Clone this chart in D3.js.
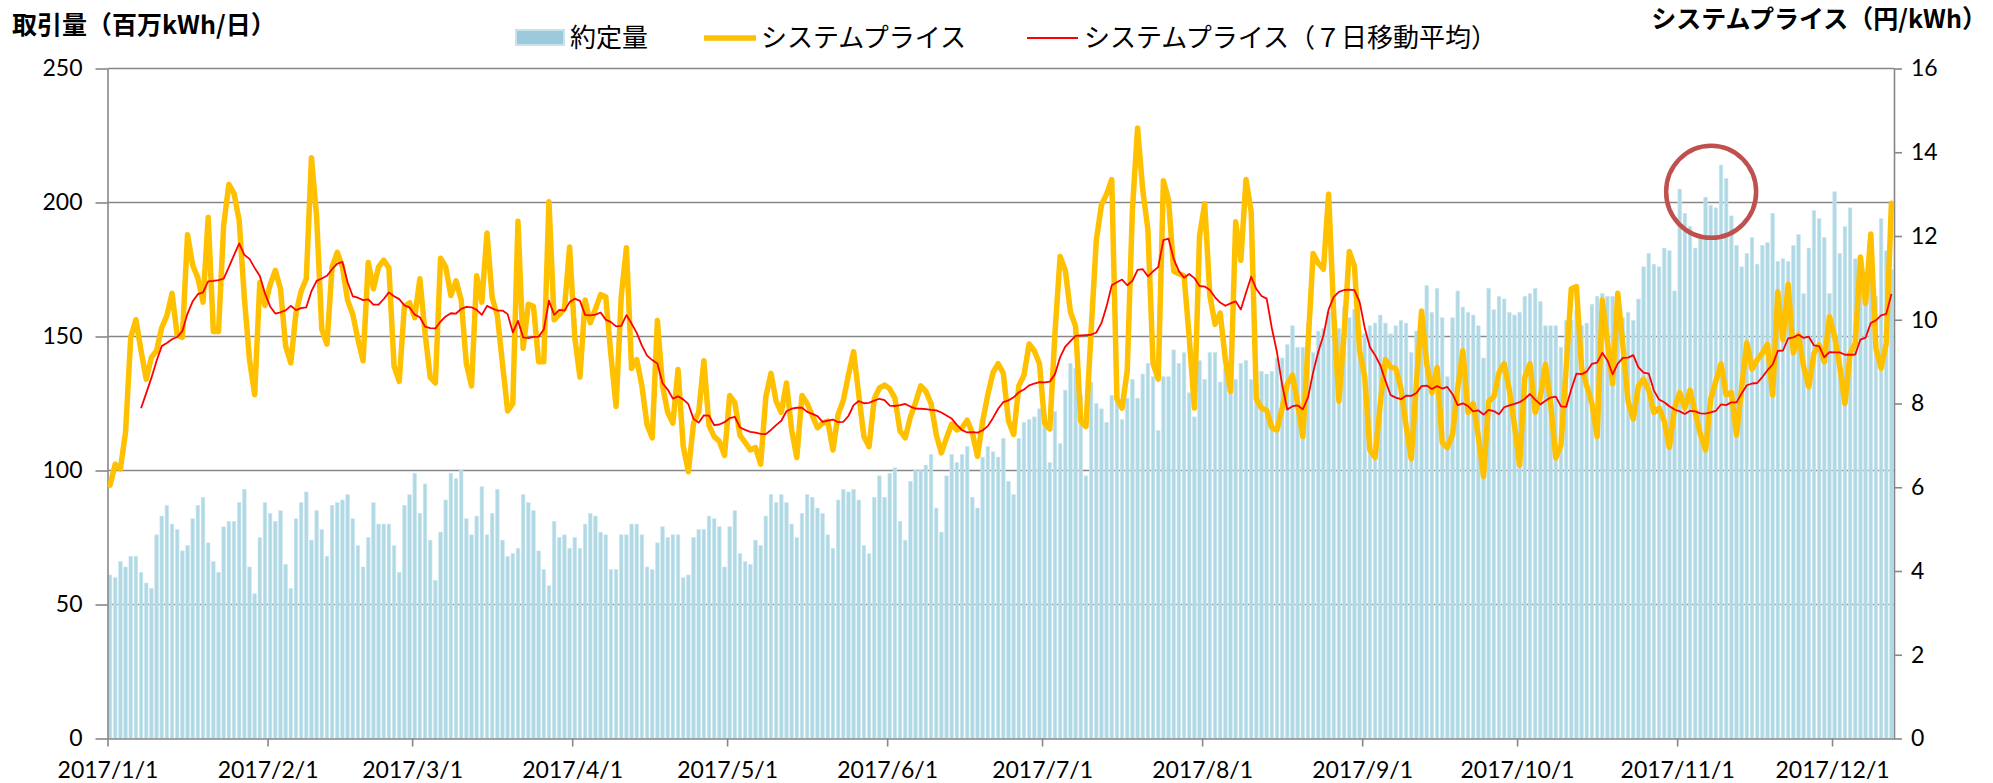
<!DOCTYPE html>
<html>
<head>
<meta charset="utf-8">
<script src="https://cdn.jsdelivr.net/npm/d3@7"></script>
<style>
body { margin: 0; background: #fff; }
</style>
</head>
<body>
<script>
var w = 1993;
var h = 783;
var svg;

// daily values, 2017/1/1 .. 2017/12/12
var startDay = new Date(Date.UTC(2017, 0, 1));
var endDay = new Date(Date.UTC(2017, 11, 13));

// 約定量 (百万kWh/日)
var volume = [
 61,60,66,64,68,68,62,58,56,76,83,87,80,78,70,72,82,87,90,73,66,62,79,81,81,88,93,64,54,75,
 88,84,81,85,65,56,82,88,92,74,85,78,68,87,88,89,91,82,72,64,75,88,80,80,80,72,62,87,91,99,
 84,95,74,59,77,89,99,97,100,82,76,83,94,76,84,93,74,68,69,71,91,88,85,70,63,57,81,75,76,71,
 75,71,80,84,83,77,76,63,63,76,76,80,80,76,64,63,73,79,75,76,76,60,61,75,78,78,83,82,79,64,
 79,85,69,66,65,74,72,83,91,88,91,88,80,75,84,91,90,86,84,76,71,89,93,92,93,89,72,69,90,98,
 90,99,101,81,74,96,100,100,102,106,86,77,98,106,103,106,109,90,86,105,109,107,105,112,96,91,112,118,119,120,
 123,121,103,122,110,130,140,138,128,98,133,125,123,118,128,127,119,127,134,127,136,140,135,115,135,135,145,140,144,129,
 120,141,134,144,144,133,138,135,134,140,141,134,137,137,136,137,142,142,147,154,146,146,155,144,152,153,159,162,153,161,
 157,160,152,151,154,155,158,155,151,154,156,155,144,152,159,169,159,168,157,135,157,167,161,159,158,154,142,168,160,165,
 164,159,158,159,165,166,168,163,154,154,154,146,156,156,160,154,155,162,165,166,165,165,159,157,159,156,164,176,181,177,
 176,183,182,167,205,196,191,183,187,202,199,198,214,209,195,184,176,181,187,177,184,185,196,178,179,178,184,188,166,183,
 197,194,187,166,204,181,191,198,179,180,174,178,165,194,182,175
];

// システムプライス (円/kWh)
var price = [
 6.05,6.55,6.44,7.32,9.58,10.0,9.26,8.58,9.1,9.26,9.81,10.1,10.63,9.63,9.58,12.03,11.3,11.0,10.42,12.45,9.72,9.72,12.26,13.23,13.02,12.37,10.53,9.05,8.21,10.89,
 10.34,10.84,11.18,10.74,9.37,8.97,10.16,10.68,10.98,13.87,12.47,9.77,9.42,11.26,11.61,11.26,10.47,10.13,9.53,9.02,11.37,10.74,11.26,11.42,11.24,8.89,8.53,10.32,10.4,10.05,
 10.98,9.68,8.63,8.49,11.47,11.26,10.58,10.93,10.47,8.95,8.42,11.05,10.42,12.07,10.53,10.1,8.95,7.82,8.0,12.35,9.32,10.37,10.32,9.0,9.0,12.82,10.0,10.13,10.26,11.74,
 9.58,8.63,10.47,9.93,10.26,10.6,10.55,9.16,7.93,10.56,11.72,8.84,9.05,8.42,7.49,7.18,9.98,8.42,7.79,7.53,8.81,6.98,6.37,7.53,7.79,9.02,7.47,7.21,7.1,6.76,
 8.19,8.02,7.24,7.07,6.89,6.95,6.55,8.16,8.72,8.05,7.79,8.49,7.37,6.71,8.19,8.0,7.71,7.42,7.53,7.58,6.89,7.74,8.07,8.68,9.24,8.21,7.21,6.97,8.11,8.37,
 8.44,8.35,8.13,7.34,7.18,7.68,8.02,8.42,8.29,8.0,7.26,6.82,7.18,7.51,7.37,7.42,7.6,7.3,6.74,7.58,8.21,8.74,8.95,8.72,7.58,7.26,8.42,8.68,9.42,9.26,
 8.95,7.53,7.39,9.68,11.51,11.18,10.19,9.84,7.58,7.45,9.74,11.89,12.74,13.0,13.35,8.11,7.89,8.79,12.63,14.58,13.1,12.16,8.95,8.58,13.32,12.86,11.16,11.1,11.05,9.58,
 7.89,12.0,12.77,10.58,9.89,10.16,9.05,8.29,12.34,11.42,13.35,12.58,8.11,7.89,7.84,7.42,7.37,7.89,8.47,8.68,8.0,7.21,9.37,11.58,11.35,11.21,13.0,10.1,8.05,9.68,
 11.63,11.28,9.26,8.63,6.89,6.71,8.0,9.05,8.87,8.84,8.37,7.47,6.68,8.47,10.21,8.95,8.26,8.86,7.07,6.95,7.26,8.37,9.26,7.79,8.0,7.21,6.26,8.05,8.16,8.74,
 8.95,8.32,7.47,6.53,8.63,8.95,7.79,8.16,8.93,8.0,6.7,7.0,8.84,10.74,10.79,8.84,8.42,8.0,7.21,10.47,9.47,8.47,10.63,9.37,8.05,7.63,8.42,8.58,8.32,7.79,
 7.89,7.58,6.95,7.89,8.26,7.89,8.32,7.79,7.26,6.89,8.1,8.53,8.95,8.21,8.26,7.25,8.4,9.45,8.82,9.04,9.2,9.41,8.2,10.67,9.52,10.85,9.21,9.64,8.88,8.4,
 9.2,9.4,9.0,10.07,9.6,8.88,8.0,9.2,9.44,11.5,10.39,12.05,9.32,8.84,9.44,12.78
];

var leftTicks = [0, 50, 100, 150, 200, 250];
var rightTicks = [0, 2, 4, 6, 8, 10, 12, 14, 16];

var legendNames = ["約定量", "システムプライス", "システムプライス（７日移動平均）"];
var leftTitle = "取引量（百万kWh/日）";
var rightTitle = "システムプライス（円/kWh）";

var plotLeft = 107.5;
var plotRight = 1894;
var plotTop = 68.5;
var plotBottom = 738.5;
var gridColor = "#878787";
var numFont = "Lato, 'Liberation Sans', sans-serif";
var jpFont = "'Noto Sans CJK JP', 'Noto Sans', sans-serif";

drawChart();
function drawChart(){
    svg = d3.select("body")
        .append("svg")
        .attr("width", w)
        .attr("height", h);

    var days = d3.utcDay.range(startDay, endDay);
    var data = days.map(function(d, i){
        var ma = null;
        if (i >= 6) ma = d3.mean(price.slice(i - 6, i + 1));   // 7日移動平均
        return {date: d, vol: volume[i], price: price[i], ma: ma};
    });

    var x = d3.scaleUtc().domain([startDay, endDay]).range([plotLeft, plotRight]);
    var step = x(days[1]) - x(days[0]);
    var barW = step * 0.7;
    var cx = function(d){ return x(d.date) + step / 2; };

    var yL = d3.scaleLinear().domain([0, 250]).range([plotBottom, plotTop]);
    var yR = d3.scaleLinear().domain([0, 16]).range([plotBottom, plotTop]);

    //---grid-----
    svg.append("g").selectAll("line")
        .data(leftTicks.filter(function(t){ return t > 0; }))
        .enter().append("line")
        .attr("x1", plotLeft)
        .attr("x2", plotRight)
        .attr("y1", function(t){ return yL(t); })
        .attr("y2", function(t){ return yL(t); })
        .attr("stroke", gridColor)
        .attr("stroke-width", 1.6);

    //---bars-----
    svg.append("g").selectAll("rect")
        .data(data)
        .enter().append("rect")
        .attr("x", function(d){ return x(d.date) + (step - barW) / 2; })
        .attr("y", function(d){ return yL(d.vol); })
        .attr("width", barW)
        .attr("height", function(d){ return plotBottom - yL(d.vol); })
        .attr("fill", "#b1d9e5")
        .attr("stroke", "#cde8f0")
        .attr("stroke-width", 0.6);

    //---axes-----
    var xAxis = svg.append("g")
        .attr("transform", "translate(0," + plotBottom + ")")
        .call(d3.axisBottom(x)
            .tickValues(d3.utcMonth.range(startDay, endDay))
            .tickFormat(d3.utcFormat("%Y/%-m/%-d"))
            .tickSize(8)
            .tickSizeOuter(0)
            .tickPadding(15));

    var lAxis = svg.append("g")
        .attr("transform", "translate(" + plotLeft + ",0)")
        .call(d3.axisLeft(yL)
            .tickValues(leftTicks)
            .tickSize(12)
            .tickSizeOuter(0)
            .tickPadding(13));

    var rAxis = svg.append("g")
        .attr("transform", "translate(" + plotRight + ",0)")
        .call(d3.axisRight(yR)
            .tickValues(rightTicks)
            .tickFormat(d3.format("d"))
            .tickSize(8)
            .tickSizeOuter(0)
            .tickPadding(9));

    [xAxis, lAxis, rAxis].forEach(function(a){
        a.select(".domain").attr("stroke", gridColor).attr("stroke-width", 1.6);
        a.selectAll(".tick line").attr("stroke", gridColor).attr("stroke-width", 1.6);
        a.selectAll(".tick text")
            .attr("fill", "#000")
            .attr("font-family", numFont)
            .attr("font-size", 23);
    });

    //---lines-----
    svg.append("path")
        .datum(data)
        .attr("fill", "none")
        .attr("stroke", "#ffc000")
        .attr("stroke-width", 5.5)
        .attr("stroke-linejoin", "round")
        .attr("stroke-linecap", "round")
        .attr("d", d3.line().x(cx).y(function(d){ return yR(d.price); }));

    svg.append("path")
        .datum(data.filter(function(d){ return d.ma !== null; }))
        .attr("fill", "none")
        .attr("stroke", "#ff0000")
        .attr("stroke-width", 1.8)
        .attr("stroke-linejoin", "round")
        .attr("d", d3.line().x(cx).y(function(d){ return yR(d.ma); }));

    //---circle (11月上旬の約定量)-----
    svg.append("ellipse")
        .attr("cx", x(new Date(Date.UTC(2017, 10, 7, 14))))
        .attr("cy", yL(204))
        .attr("rx", 45)
        .attr("ry", 46)
        .attr("fill", "none")
        .attr("stroke", "#c0504d")
        .attr("stroke-width", 4.5);

    //---titles-----
    svg.append("text")
        .text(leftTitle)
        .attr("x", 12)
        .attr("y", 34)
        .attr("font-size", 25)
        .attr("font-weight", "bold")
        .attr("font-family", jpFont)
        .attr("fill", "#000");

    svg.append("text")
        .text(rightTitle)
        .attr("x", 1987)
        .attr("y", 28)
        .attr("text-anchor", "end")
        .attr("font-size", 25)
        .attr("font-weight", "bold")
        .attr("font-family", jpFont)
        .attr("fill", "#000");

    //---legend-----
    var legend = svg.append("g");
    legend.append("rect")
        .attr("x", 516)
        .attr("y", 30)
        .attr("width", 48)
        .attr("height", 15)
        .attr("fill", "#9ccadb")
        .attr("stroke", "#c6e4ed")
        .attr("stroke-width", 2);
    legend.append("text")
        .text(legendNames[0])
        .attr("x", 570)
        .attr("y", 47)
        .attr("font-size", 26)
        .attr("font-family", jpFont);

    legend.append("line")
        .attr("x1", 704).attr("x2", 756)
        .attr("y1", 38).attr("y2", 38)
        .attr("stroke", "#ffc000")
        .attr("stroke-width", 5.5);
    legend.append("text")
        .text(legendNames[1])
        .attr("x", 761)
        .attr("y", 47)
        .attr("font-size", 26)
        .attr("font-family", jpFont);

    legend.append("line")
        .attr("x1", 1027).attr("x2", 1078)
        .attr("y1", 38).attr("y2", 38)
        .attr("stroke", "#ff0000")
        .attr("stroke-width", 1.8);
    legend.append("text")
        .text(legendNames[2])
        .attr("x", 1084)
        .attr("y", 47)
        .attr("font-size", 26)
        .attr("font-family", jpFont);
}
</script>
</body>
</html>
